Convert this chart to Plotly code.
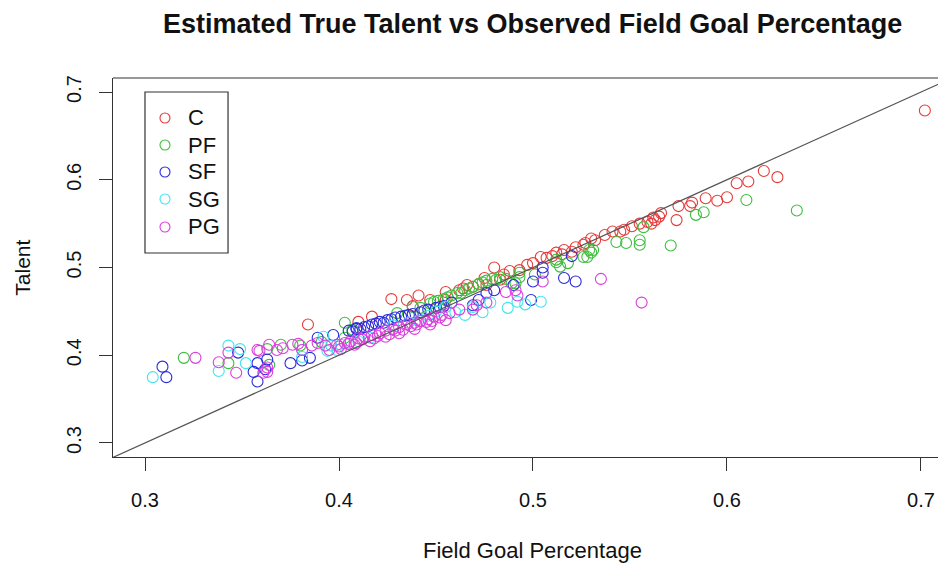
import plotly.graph_objects as go

# ---- data ----
c_x = [.702,.619,.626,.611,.605,.600,.595,.589,.582,.581,.575,.574,.566,.565,.563,.562,.559,.561,.547,.545,
       .541,.537,.532,.527,.522,.516,.512,.507,.504,.510,.497,.488,.485,.480,.475,.476,.469,.466,.462,.455,
       .455,.464,.441,.438,.435,.427,.417,.410,.384,.526,.551,.555,.483,.493,.447,.520,.530,.472,.500,.515]
c_y = [.679,.610,.603,.598,.596,.580,.576,.579,.574,.570,.570,.554,.562,.558,.554,.557,.552,.550,.543,.541,
       .541,.537,.531,.528,.523,.520,.517,.511,.512,.513,.503,.496,.492,.500,.488,.480,.478,.480,.474,.472,
       .463,.476,.468,.456,.463,.464,.444,.438,.435,.526,.547,.550,.486,.497,.463,.518,.533,.481,.505,.515]

pf_x = [.636,.610,.588,.584,.571,.557,.555,.555,.548,.543,.531,.526,.530,.518,.514,.512,.493,.501,.486,.489,
        .320,.343,.363,.364,.403,.407,.430,.438,.442,.447,.451,.454,.458,.461,.465,.469,.472,.476,.479,.483,
        .493,.491,.512,.528,.529,.370,.380,.391,.403,
        .449,.456,.463,.467,.474,.481]
pf_y = [.565,.577,.563,.560,.525,.546,.531,.526,.528,.529,.520,.512,.517,.505,.501,.506,.489,.492,.487,.482,
        .397,.391,.407,.389,.437,.429,.448,.455,.454,.459,.462,.464,.468,.471,.474,.478,.481,.485,.487,.489,
        .494,.482,.509,.512,.520,.412,.411,.415,.420,
        .461,.466,.471,.476,.483,.486]

sf_x = [.309,.311,.348,.356,.358,.358,.362,.363,.375,.381,.385,.397,.389,
        .405,.409,.413,.417,.421,.425,.429,.434,.438,.442,.446,.450,.454,.458,
        .476,.480,.505,.505,.520,.516,.522,.490,.500,.469,.472,.499,.409,
        .407,.411,.415,.419,.423,.427,.432,.436,.444,.452]
sf_y = [.387,.375,.403,.381,.370,.391,.384,.395,.391,.394,.397,.423,.420,
        .428,.430,.432,.435,.438,.440,.443,.445,.447,.449,.452,.454,.456,.460,
        .471,.474,.500,.494,.513,.488,.484,.480,.484,.457,.463,.463,.431,
        .427,.430,.433,.436,.437,.441,.444,.446,.451,.455]

sg_x = [.304,.338,.343,.349,.352,.381,.392,.396,.399,.394,.405,.410,.428,.436,.441,.460,.465,.469,.474,.478,
        .487,.492,.504,.496,.455,.450,.446,.381,.401,.416]
sg_y = [.375,.382,.411,.407,.391,.398,.421,.411,.406,.405,.413,.416,.434,.437,.439,.449,.446,.455,.449,.460,
        .454,.461,.461,.458,.455,.450,.445,.406,.412,.420]

pg_x = [.326,.338,.343,.347,.359,.361,.363,.364,.368,.371,.376,.379,.381,.386,.389,.393,.395,.358,.363,
        .399,.403,.406,.410,.413,.417,.421,.424,.428,.431,.435,.439,.442,.446,.449,.453,.457,
        .401,.408,.416,.424,.431,.439,.447,.455,
        .535,.556,.486,.491,.492,.505,.471,.476,.469,.462,
        .400,.405,.409,.412,.418,.420,.426,.429,.433,.437,.440,.445,.448,.452]
pg_y = [.397,.392,.403,.380,.405,.380,.386,.412,.406,.408,.412,.413,.406,.411,.414,.411,.406,.406,.381,
        .412,.414,.416,.419,.421,.423,.425,.428,.430,.432,.435,.437,.439,.441,.444,.446,.448,
        .407,.412,.416,.421,.425,.430,.435,.440,
        .487,.460,.472,.474,.468,.484,.457,.460,.452,.452,
        .410,.413,.414,.418,.419,.422,.424,.428,.429,.433,.435,.438,.439,.443]

positions = ["C", "PF", "SF", "SG", "PG"]
colors = ["#E63A3A", "#3CBF3C", "#2A2ADC", "#3EE6F0", "#DC3CDC"]
xs = [c_x, pf_x, sf_x, sg_x, pg_x]
ys = [c_y, pf_y, sf_y, sg_y, pg_y]

x_range = [0.2835, 0.7129]
y_range = [0.284, 0.716]
x_ticks = [0.3, 0.4, 0.5, 0.6, 0.7]
y_ticks = [0.3, 0.4, 0.5, 0.6, 0.7]

FONT = "Liberation Sans, Arial, Helvetica, sans-serif"

fig = go.Figure()
for name, col, x, y in zip(positions, colors, xs, ys):
    fig.add_trace(go.Scatter(
        x=x, y=y, mode="markers", name=name, showlegend=False,
        marker=dict(symbol="circle-open", size=11, color=col, line=dict(width=1.1, color=col)),
    ))

# identity line y = x across the full axis range
lo = min(x_range[0], y_range[0]) - 0.01
hi = max(x_range[1], y_range[1]) + 0.01
fig.add_trace(go.Scatter(x=[lo, hi], y=[lo, hi], mode="lines",
                         line=dict(color="#555555", width=1.2), showlegend=False, hoverinfo="skip"))

# ---- hand-built legend box (R style) on an overlay axis in [0,1] units ----
leg_x0, leg_x1, leg_top, leg_bot = 0.0384, 0.1381, 0.9631, 0.5383
leg_key_x = 0.0624
leg_text_x = 0.0876
leg_rows = [0.8945, 0.8232, 0.7520, 0.6807, 0.6069]

for name, col, ry in zip(positions, colors, leg_rows):
    fig.add_trace(go.Scatter(
        x=[leg_key_x], y=[ry], xaxis="x2", yaxis="y2", mode="markers", showlegend=False,
        hoverinfo="skip",
        marker=dict(symbol="circle-open", size=10, color=col, line=dict(width=1.1, color=col)),
    ))

annotations = [
    dict(text="<b>Estimated True Talent vs Observed Field Goal Percentage</b>",
         x=0.504, y=1.1425, xref="paper", yref="paper", xanchor="center", yanchor="middle",
         showarrow=False, font=dict(size=27, family=FONT, color="#111111")),
    dict(text="Field Goal Percentage", x=0.504, y=-0.248, xref="paper", yref="paper",
         xanchor="center", yanchor="middle", showarrow=False, font=dict(size=22, family=FONT, color="#111111")),
    dict(text="Talent", x=-0.109, y=0.5, xref="paper", yref="paper", textangle=-90,
         xanchor="center", yanchor="middle", showarrow=False, font=dict(size=21, family=FONT, color="#111111")),
]
for name, ry in zip(positions, leg_rows):
    annotations.append(dict(text=name, x=leg_text_x, y=ry, xref="paper", yref="paper",
                            xanchor="left", yanchor="middle", showarrow=False,
                            font=dict(size=22, family=FONT, color="#111111")))

fig.update_layout(
    width=938, height=555,
    margin=dict(l=105, r=0, t=70, b=106),
    paper_bgcolor="white", plot_bgcolor="white",
    font=dict(family=FONT, color="#222222", size=20),
    showlegend=False,
    annotations=annotations,
    shapes=[
        dict(type="line", xref="paper", yref="paper", x0=0, x1=1.02, y0=1, y1=1,
             line=dict(color="#333333", width=1.2)),
        dict(type="rect", xref="paper", yref="paper", x0=leg_x0, x1=leg_x1, y0=leg_bot, y1=leg_top,
             line=dict(color="#333333", width=1.2), fillcolor="white", layer="below"),
    ],
    xaxis2=dict(overlaying="x", range=[0, 1], visible=False, fixedrange=True),
    yaxis2=dict(overlaying="y", range=[0, 1], visible=False, fixedrange=True),
    xaxis=dict(range=x_range, tickvals=x_ticks, ticktext=[f"{v:.1f}" for v in x_ticks],
               showgrid=False, zeroline=False, showline=True, linecolor="#333333", linewidth=1.2,
               ticks="outside", ticklen=13, tickcolor="#333333", tickwidth=1,
               ticklabelstandoff=12, tickfont=dict(size=20, color="#111111")),
    yaxis=dict(range=y_range, tickvals=y_ticks, ticktext=[f"{v:.1f}" for v in y_ticks],
               showgrid=False, zeroline=False, showline=True, linecolor="#333333", linewidth=1.2,
               ticks="outside", ticklen=13, tickcolor="#333333", tickwidth=1, tickangle=-90,
               ticklabelstandoff=10, tickfont=dict(size=20, color="#111111")),
)

fig.write_html("out.html")
